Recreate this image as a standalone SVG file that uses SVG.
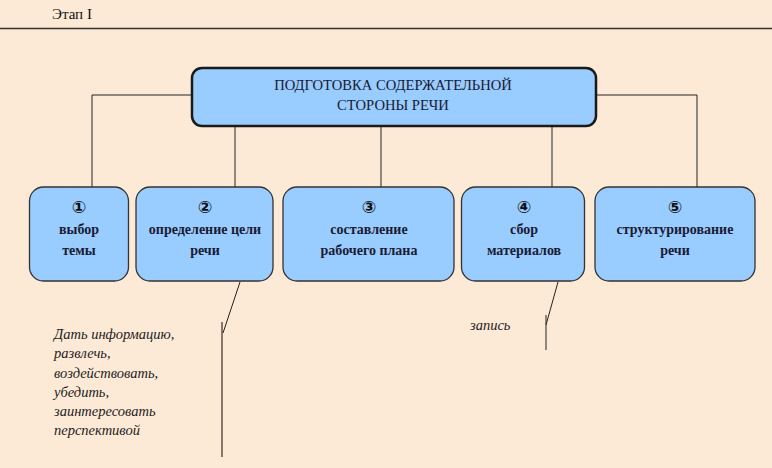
<svg xmlns="http://www.w3.org/2000/svg" width="772" height="468" viewBox="0 0 772 468">
<style>
.bg{fill:#fdead6}
.box{fill:#99ccff;stroke:#333;stroke-width:1.3}
.main{fill:#99ccff;stroke:#1a1a1a;stroke-width:2.5}
.ln{stroke:#222;stroke-width:1;fill:none}
.ln2{stroke:#4a3a30;stroke-width:1.3;fill:none}
.t{font-family:"Liberation Serif","Times New Roman","DejaVu Serif",serif;font-weight:bold;font-size:14px;fill:#1a1a33;text-anchor:middle}
.n{font-family:"DejaVu Sans",sans-serif;font-weight:bold;font-size:17px;fill:#111;text-anchor:middle}
.mt{font-family:"Liberation Serif","Times New Roman","DejaVu Serif",serif;font-size:14.6px;fill:#1a1a33;text-anchor:middle}
.it{font-family:"Liberation Serif","Times New Roman","DejaVu Serif",serif;font-style:italic;font-size:14.5px;fill:#222}
.hd{font-family:"Liberation Serif","Times New Roman","DejaVu Serif",serif;font-size:15px;fill:#111}
</style>
<rect class="bg" x="0" y="0" width="772" height="468"/>
<text class="hd" x="52" y="19">Этап I</text>
<line x1="0" y1="28.5" x2="772" y2="28.5" stroke="#333" stroke-width="1.5"/>
<g id="connectors">
<polyline class="ln" points="192,95 92,95 92,187"/>
<polyline class="ln" points="596,95 697,95 697,187"/>
<line class="ln" x1="235" y1="126" x2="235" y2="187"/>
<line class="ln" x1="381" y1="126" x2="381" y2="187"/>
<line class="ln" x1="552" y1="126" x2="552" y2="187"/>
<line class="ln" x1="240" y1="282" x2="223" y2="333"/>
<line class="ln2" x1="222" y1="322" x2="222" y2="457"/>
<line class="ln" x1="558" y1="282" x2="546" y2="325"/>
<line class="ln" x1="546" y1="315" x2="546" y2="350"/>
</g>
<g id="main">
<rect class="main" x="192" y="68" width="404" height="58" rx="10"/>
<text class="mt" x="393" y="90">ПОДГОТОВКА СОДЕРЖАТЕЛЬНОЙ</text>
<text class="mt" x="393" y="110">СТОРОНЫ РЕЧИ</text>
</g>
<g id="n1">
<rect class="box" x="29.5" y="187" width="99" height="94" rx="14"/>
<text class="n" x="79" y="213">①</text>
<text class="t" x="79" y="234">выбор</text>
<text class="t" x="79" y="255">темы</text>
</g>
<g id="n2">
<rect class="box" x="136" y="187" width="137" height="94" rx="14"/>
<text class="n" x="205" y="213">②</text>
<text class="t" x="205" y="234">определение цели</text>
<text class="t" x="205" y="255">речи</text>
</g>
<g id="n3">
<rect class="box" x="283" y="187" width="171" height="94" rx="14"/>
<text class="n" x="369" y="213">③</text>
<text class="t" x="369" y="234">составление</text>
<text class="t" x="369" y="255">рабочего плана</text>
</g>
<g id="n4">
<rect class="box" x="461.5" y="187" width="123" height="94" rx="14"/>
<text class="n" x="524" y="213">④</text>
<text class="t" x="524" y="234">сбор</text>
<text class="t" x="524" y="255">материалов</text>
</g>
<g id="n5">
<rect class="box" x="595" y="187" width="160" height="94" rx="14"/>
<text class="n" x="675" y="213">⑤</text>
<text class="t" x="675" y="234">структурирование</text>
<text class="t" x="675" y="255">речи</text>
</g>
<g id="notes">
<text class="it" x="54" y="339">Дать информацию,</text>
<text class="it" x="54" y="358">развлечь,</text>
<text class="it" x="54" y="378">воздействовать,</text>
<text class="it" x="54" y="397">убедить,</text>
<text class="it" x="54" y="416">заинтересовать</text>
<text class="it" x="54" y="435">перспективой</text>
<text class="it" x="470" y="330">запись</text>
</g>
</svg>
